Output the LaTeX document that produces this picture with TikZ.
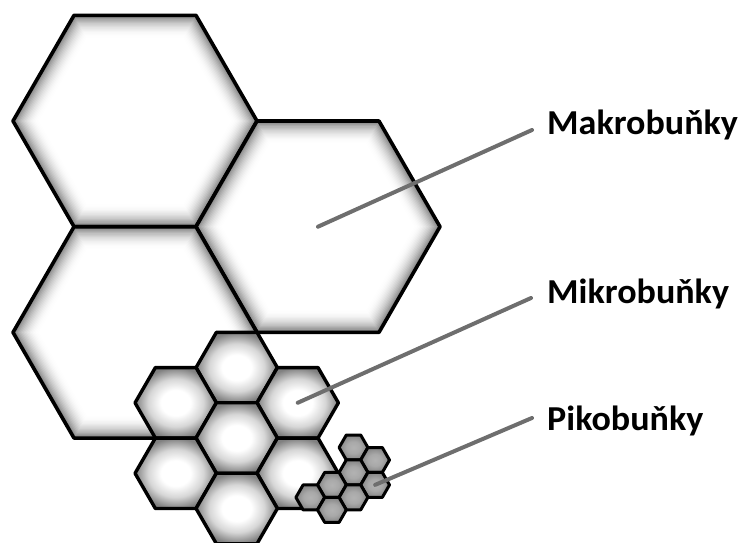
\documentclass[tikz,border=0pt]{standalone}
\usepackage{fontspec}
\setmainfont{Carlito}
\usetikzlibrary{calc}

\definecolor{ptrgray}{HTML}{6E6E6E}

% soft radial fills for the smaller cells
\pgfdeclareradialshading{microglow}{\pgfpoint{0bp}{0bp}}{%
  color(0bp)=(white); color(9bp)=(white); color(17bp)=(black!16);
  color(25bp)=(black!50); color(50bp)=(black!50)}
\pgfdeclareradialshading{picoglow}{\pgfpoint{0bp}{0bp}}{%
  color(0bp)=(black!30); color(12bp)=(black!34);
  color(25bp)=(black!48); color(50bp)=(black!48)}

% filled flat-topped hexagon around a named centre
\newcommand\hexfill[3]{%
  \fill[#3] (#1) +(0:#2 pt) -- +(60:#2 pt) -- +(120:#2 pt) -- +(180:#2 pt)
    -- +(240:#2 pt) -- +(300:#2 pt) -- cycle;}

% outline of a flat-topped hexagon
\newcommand\hexline[3]{%
  \draw[line width=#3, line join=round] (#1) +(0:#2 pt) -- +(60:#2 pt) -- +(120:#2 pt)
    -- +(180:#2 pt) -- +(240:#2 pt) -- +(300:#2 pt) -- cycle;}

% large hexagon with an inner glow band: name, x, y, radius, band width, edge shade, line width
\newcommand\glowhex[7]{%
  \coordinate (#1) at (#2,#3);
  \foreach \hi in {0,...,17}{%
    \pgfmathsetmacro\hext{\hi/17}%
    \pgfmathsetmacro\hexr{#4-\hext*#5/0.866}%
    \pgfmathsetmacro\hexs{#6*(1-\hext)^2}%
    \hexfill{#1}{\hexr}{black!\hexs}%
  }%
  \hexline{#1}{#4}{#7}}

% smaller hexagon with a radial fill: name, x, y, radius, shading, line width
\newcommand\shadehex[6]{%
  \coordinate (#1) at (#2,#3);
  \shade[shading=#5] (#1) +(0:#4 pt) -- +(60:#4 pt) -- +(120:#4 pt) -- +(180:#4 pt)
    -- +(240:#4 pt) -- +(300:#4 pt) -- cycle;
  \hexline{#1}{#4}{#6}}

\tikzset{
  pointer/.style={draw=ptrgray, line width=4pt, line cap=round},
  lbl/.style={font=\fontsize{35}{40}\selectfont\bfseries, inner sep=0pt,
    anchor=base west, xscale=1.03},
}

\begin{document}
\begin{tikzpicture}[x=1pt, y=-1pt]
\useasboundingbox (0,0) rectangle (745,543);
\clip (0,0) rectangle (745,543);

% macro cells
\glowhex{mA}{135}{121}{122}{22}{50}{3.6pt}
\glowhex{mB}{318}{226.7}{122}{22}{50}{3.6pt}
\glowhex{mC}{135}{332.4}{122}{22}{50}{3.6pt}

% micro cells
\shadehex{uT}{236.7}{367.6}{40.67}{microglow}{3.4pt}
\shadehex{uUL}{175.7}{402.8}{40.67}{microglow}{3.4pt}
\shadehex{uUR}{297.7}{402.8}{40.67}{microglow}{3.4pt}
\shadehex{uC}{236.7}{438}{40.67}{microglow}{3.4pt}
\shadehex{uLL}{175.7}{473.3}{40.67}{microglow}{3.4pt}
\shadehex{uLR}{297.7}{473.3}{40.67}{microglow}{3.4pt}
\shadehex{uB}{236.7}{508.5}{40.67}{microglow}{3.4pt}

% pico cells
\shadehex{p1}{353.5}{447.5}{14.4}{picoglow}{3pt}
\shadehex{p2}{375.1}{460}{14.4}{picoglow}{3pt}
\shadehex{p3}{353.5}{472.4}{14.4}{picoglow}{3pt}
\shadehex{p4}{375.1}{484.9}{14.4}{picoglow}{3pt}
\shadehex{p5}{331.9}{484.9}{14.4}{picoglow}{3pt}
\shadehex{p6}{353.5}{497.4}{14.4}{picoglow}{3pt}
\shadehex{p7}{310.3}{497.4}{14.4}{picoglow}{3pt}
\shadehex{p8}{331.9}{509.9}{14.4}{picoglow}{3pt}

% labels
\node[lbl] (makro) at (547,134) {Makrobuňky};
\node[lbl] (mikro) at (547,303) {Mikrobuňky};
\node[lbl] (piko) at (547,430) {Pikobuňky};

% leader lines
\draw[pointer] (mB) -- ($(makro.base west)+(-15,-4)$);
\draw[pointer] (uUR) -- ($(mikro.base west)+(-16,-5)$);
\draw[pointer] (p4) -- ($(piko.base west)+(-15,-12)$);
\end{tikzpicture}
\end{document}
